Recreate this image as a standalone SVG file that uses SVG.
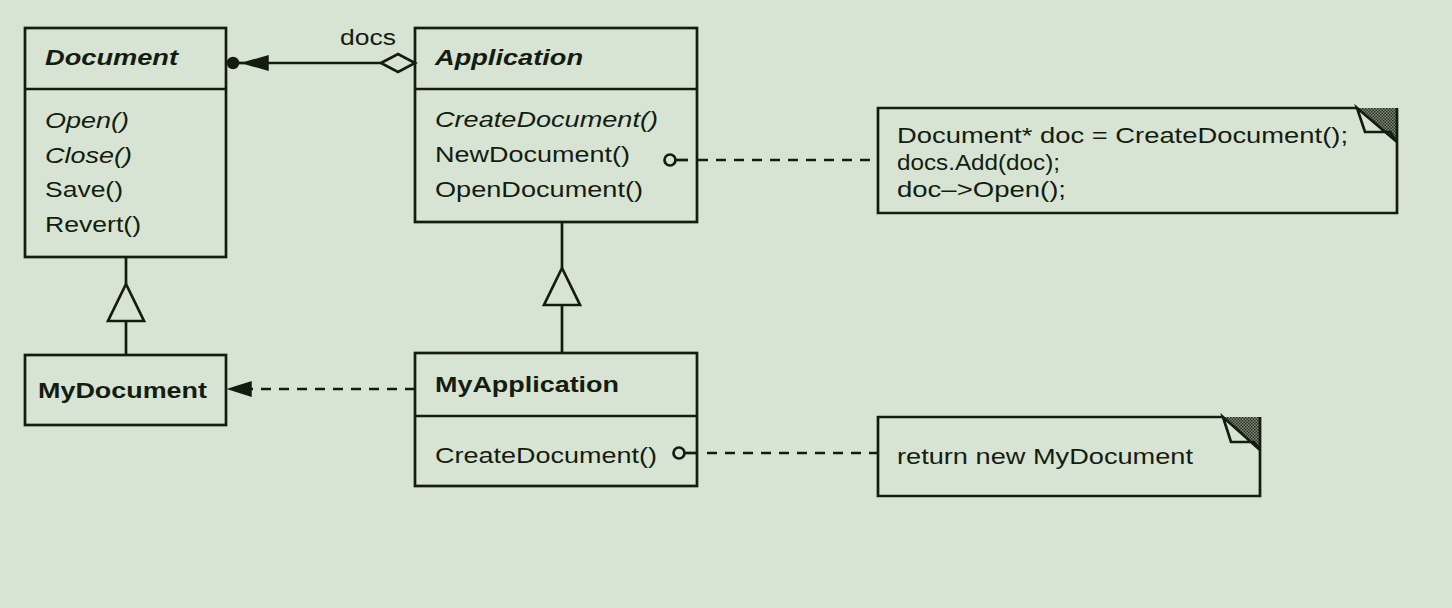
<svg xmlns="http://www.w3.org/2000/svg" width="1452" height="608" viewBox="0 0 1452 608">
<style>
.bg{fill:#d7e4d3}
.box{fill:none;stroke:#141c10;stroke-width:2.7}
.ln{fill:none;stroke:#141c10;stroke-width:2.7}
.dash{fill:none;stroke:#141c10;stroke-width:2.7;stroke-dasharray:10 8}
.t{font-family:"Liberation Sans",Arial,sans-serif;font-size:22px;fill:#141c10}
.b{font-weight:bold}
.i{font-style:italic}
.fill{fill:#141c10;stroke:#141c10;stroke-width:1.5}
.hol{fill:#d7e4d3;stroke:#141c10;stroke-width:2.7}
</style>
<defs>
<pattern id="hatch" width="3" height="3" patternUnits="userSpaceOnUse">
<rect width="3" height="3" fill="#7d8a78"/>
<rect width="1.5" height="1.5" fill="#2a3326"/>
<rect x="1.5" y="1.5" width="1.5" height="1.5" fill="#2a3326"/>
</pattern>
</defs>
<rect class="bg" x="0" y="0" width="1452" height="608"/>

<g id="connectors">
<line class="ln" x1="266" y1="63" x2="381" y2="63"/>
<circle class="fill" cx="233" cy="63" r="5.5"/>
<polygon class="fill" points="243,63 268,56 268,70"/>
<line class="ln" x1="236" y1="63" x2="245" y2="63"/>
<polygon class="hol" points="381,63 398,54 415,63 398,72"/>
<text class="t" x="340" y="45" textLength="56" lengthAdjust="spacingAndGlyphs">docs</text>
<line class="ln" x1="126" y1="257" x2="126" y2="284"/>
<polygon class="hol" points="126,284 108,321 144,321"/>
<line class="ln" x1="126" y1="321" x2="126" y2="355"/>
<line class="ln" x1="562" y1="222" x2="562" y2="268"/>
<polygon class="hol" points="562,268 544,305 580,305"/>
<line class="ln" x1="562" y1="305" x2="562" y2="353"/>
<line class="dash" x1="415" y1="389" x2="248" y2="389"/>
<polygon class="fill" points="229,389 251,382 251,396"/>
<circle class="box" cx="670" cy="160" r="5.5"/>
<line class="ln" x1="675" y1="160" x2="688" y2="160"/>
<line class="dash" x1="698" y1="160" x2="878" y2="160"/>
<circle class="box" cx="679" cy="453" r="5.5"/>
<line class="ln" x1="684" y1="453" x2="697" y2="453"/>
<line class="dash" x1="707" y1="453" x2="878" y2="453"/>
</g>

<g id="Document">
<rect class="box" x="25" y="28" width="201" height="229"/>
<line class="ln" x1="25" y1="89" x2="226" y2="89"/>
<text class="t b i" x="45" y="65" textLength="133" lengthAdjust="spacingAndGlyphs">Document</text>
<text class="t i" x="45" y="128" textLength="84" lengthAdjust="spacingAndGlyphs">Open()</text>
<text class="t i" x="45" y="163" textLength="87" lengthAdjust="spacingAndGlyphs">Close()</text>
<text class="t" x="45" y="197" textLength="78" lengthAdjust="spacingAndGlyphs">Save()</text>
<text class="t" x="45" y="232" textLength="96" lengthAdjust="spacingAndGlyphs">Revert()</text>
</g>

<g id="Application">
<rect class="box" x="415" y="28" width="282" height="194"/>
<line class="ln" x1="415" y1="89" x2="697" y2="89"/>
<text class="t b i" x="435" y="65" textLength="148" lengthAdjust="spacingAndGlyphs">Application</text>
<text class="t i" x="435" y="127" textLength="223" lengthAdjust="spacingAndGlyphs">CreateDocument()</text>
<text class="t" x="435" y="162" textLength="195" lengthAdjust="spacingAndGlyphs">NewDocument()</text>
<text class="t" x="435" y="197" textLength="208" lengthAdjust="spacingAndGlyphs">OpenDocument()</text>
</g>

<g id="MyDocument">
<rect class="box" x="25" y="355" width="201" height="70"/>
<text class="t b" x="38" y="398" textLength="169" lengthAdjust="spacingAndGlyphs">MyDocument</text>
</g>

<g id="MyApplication">
<rect class="box" x="415" y="353" width="282" height="133"/>
<line class="ln" x1="415" y1="416" x2="697" y2="416"/>
<text class="t b" x="435" y="392" textLength="184" lengthAdjust="spacingAndGlyphs">MyApplication</text>
<text class="t" x="435" y="463" textLength="222" lengthAdjust="spacingAndGlyphs">CreateDocument()</text>
</g>

<g id="note1">
<polygon fill="url(#hatch)" points="1357,108 1397,108 1397,142"/>
<polyline class="ln" points="1357,108 878,108 878,213 1397,213 1397,108"/>
<polygon class="hol" points="1357,108 1365,132 1390,132 1397,142"/>
<text class="t" x="897" y="143" textLength="451" lengthAdjust="spacingAndGlyphs">Document* doc = CreateDocument();</text>
<text class="t" x="897" y="170" textLength="163" lengthAdjust="spacingAndGlyphs">docs.Add(doc);</text>
<text class="t" x="897" y="197" textLength="169" lengthAdjust="spacingAndGlyphs">doc–&gt;Open();</text>
</g>

<g id="note2">
<polygon fill="url(#hatch)" points="1223,417 1260,417 1260,450"/>
<polyline class="ln" points="1223,417 878,417 878,496 1260,496 1260,417"/>
<polygon class="hol" points="1223,417 1231,442 1254,442 1260,450"/>
<text class="t" x="897" y="464" textLength="296" lengthAdjust="spacingAndGlyphs">return new MyDocument</text>
</g>
</svg>
